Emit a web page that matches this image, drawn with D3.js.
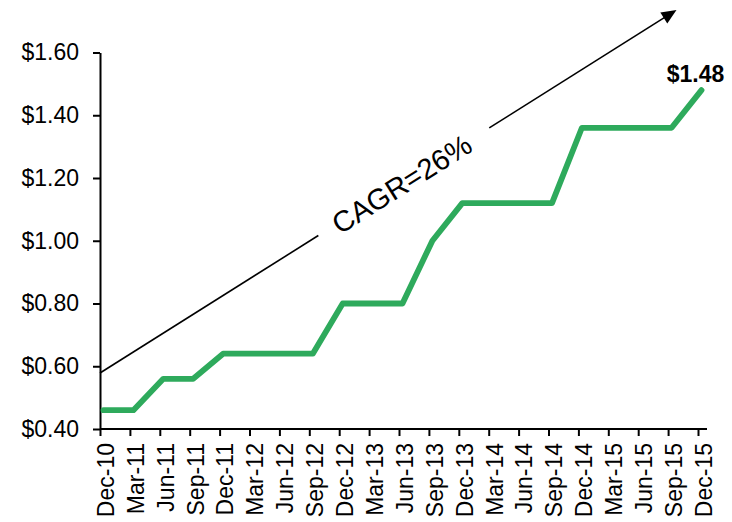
<!DOCTYPE html>
<html>
<head>
<meta charset="utf-8">
<script src="https://cdn.jsdelivr.net/npm/d3@7"></script>
<style>
  html, body { margin: 0; padding: 0; background: #fff; }
  svg { display: block; font-family: "Liberation Sans", Arial, sans-serif; }
</style>
</head>
<body>
<svg id="chart" width="732" height="522"></svg>
<script>
// Quarterly dividend per share, Dec-10 to Dec-15
const quarters = ["Dec-10","Mar-11","Jun-11","Sep-11","Dec-11","Mar-12","Jun-12","Sep-12",
  "Dec-12","Mar-13","Jun-13","Sep-13","Dec-13","Mar-14","Jun-14","Sep-14",
  "Dec-14","Mar-15","Jun-15","Sep-15","Dec-15"];
const dividend = [0.46,0.46,0.56,0.56,0.64,0.64,0.64,0.64,
  0.80,0.80,0.80,1.00,1.12,1.12,1.12,1.12,
  1.36,1.36,1.36,1.36,1.48];
const yTicks = [0.40,0.60,0.80,1.00,1.20,1.40,1.60];
const cagrLabel = "CAGR=26%";

const svg = d3.select("#chart");
const green = "#2eaa5c";

const x = d3.scalePoint().domain(quarters).range([100, 698]);
const y = d3.scaleLinear().domain([0.40, 1.60]).range([429, 52.5]);
const lineShift = 3.5;

// Y axis
const yAxis = svg.append("g")
  .attr("transform", "translate(100,0)")
  .call(d3.axisLeft(y).tickValues(yTicks).tickSize(7).tickSizeOuter(0).tickPadding(14)
    .tickFormat(d => "$" + d3.format(".2f")(d)));
yAxis.select(".domain").attr("stroke", "#000").attr("stroke-width", 2);
yAxis.selectAll(".tick line").attr("stroke", "#000").attr("stroke-width", 2);
yAxis.selectAll(".tick text").attr("font-size", 23).attr("fill", "#000")
  .attr("font-family", "Liberation Sans, Arial, sans-serif");

// X axis
const xAxis = svg.append("g")
  .attr("transform", "translate(0,429)")
  .call(d3.axisBottom(x).tickSize(7).tickSizeOuter(0));
xAxis.select(".domain").attr("d", `M100,0H707`).attr("stroke", "#000").attr("stroke-width", 2.2);
xAxis.selectAll(".tick line").attr("stroke", "#000").attr("stroke-width", 2);
xAxis.selectAll(".tick text")
  .attr("font-size", 23).attr("fill", "#000")
  .attr("font-family", "Liberation Sans, Arial, sans-serif")
  .attr("transform", "rotate(-90)")
  .attr("text-anchor", "end")
  .attr("x", -14).attr("y", 0).attr("dy", "0.58em");

// CAGR arrow with a gap for its label
const a0 = {x: x(quarters[0]), y: 373};
const a1 = {x: 676.5, y: 10};
const ang = Math.atan2(a1.y - a0.y, a1.x - a0.x);
const len = Math.hypot(a1.x - a0.x, a1.y - a0.y);
const ux = Math.cos(ang), uy = Math.sin(ang);
const gapStart = 258, gapEnd = 460, headLen = 15;
const pt = t => [a0.x + ux * t, a0.y + uy * t];

svg.append("line")
  .attr("x1", pt(0)[0]).attr("y1", pt(0)[1])
  .attr("x2", pt(gapStart)[0]).attr("y2", pt(gapStart)[1])
  .attr("stroke", "#000").attr("stroke-width", 1.6);
svg.append("line")
  .attr("x1", pt(gapEnd)[0]).attr("y1", pt(gapEnd)[1])
  .attr("x2", pt(len - headLen + 2)[0]).attr("y2", pt(len - headLen + 2)[1])
  .attr("stroke", "#000").attr("stroke-width", 1.6);
// arrow head
const hb = pt(len - headLen), hw = 6.5;
svg.append("path")
  .attr("d", `M${a1.x},${a1.y}L${hb[0] - uy * hw},${hb[1] + ux * hw}L${hb[0] + uy * hw},${hb[1] - ux * hw}Z`)
  .attr("fill", "#000");

const mid = pt((gapStart + gapEnd) / 2 - 3);
svg.append("text")
  .attr("transform", `translate(${mid[0]},${mid[1]}) rotate(${ang * 180 / Math.PI})`)
  .attr("text-anchor", "middle").attr("dy", "0.38em")
  .attr("font-size", 29).attr("fill", "#000")
  .text(cagrLabel);

// Dividend line
const line = d3.line()
  .x((d, i) => x(quarters[i]) + lineShift)
  .y(d => y(d));
svg.append("path")
  .datum(dividend)
  .attr("d", line)
  .attr("fill", "none")
  .attr("stroke", green)
  .attr("stroke-width", 5.8)
  .attr("stroke-linejoin", "round")
  .attr("stroke-linecap", "round");

// Final value label
const lastIdx = dividend.length - 1;
svg.append("text")
  .attr("x", x(quarters[lastIdx]) + lineShift - 6)
  .attr("y", y(dividend[lastIdx]) - 8)
  .attr("text-anchor", "middle")
  .attr("font-size", 23).attr("font-weight", "bold").attr("fill", "#000")
  .text("$" + d3.format(".2f")(dividend[lastIdx]));
</script>
</body>
</html>
